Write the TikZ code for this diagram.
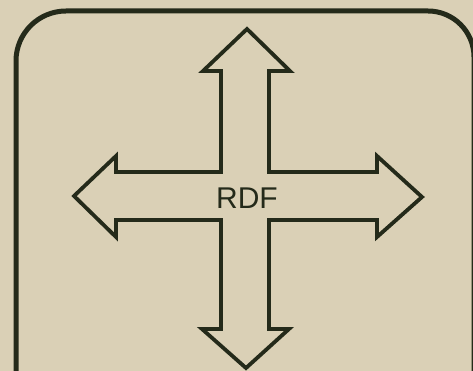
\documentclass[tikz,border=0pt]{standalone}
\usepackage{fontspec}
\newfontfamily\rdffont{Liberation Sans}
\definecolor{paper}{RGB}{218,208,182}
\definecolor{ink}{RGB}{36,42,26}
\tikzset{
  frameline/.style={draw=ink, line width=5pt},
  arrowline/.style={draw=ink, line width=3.8pt, line join=miter},
  lbl/.style={font=\rdffont\fontsize{30}{36}\selectfont, text=ink, inner sep=0pt}
}
\begin{document}
\begin{tikzpicture}[x=1pt,y=-1pt]
\useasboundingbox (0,0) rectangle (473,371);
\fill[paper] (0,0) rectangle (473,371);
\begin{scope}
\clip (0,0) rectangle (473,371);
\draw[frameline] (16,400) -- (16,61) arc[start angle=180, end angle=270, radius=50] -- (428,11) arc[start angle=-90, end angle=0, radius=46] -- (474,400);
\end{scope}
\draw[arrowline] (247,29) -- (290,71) -- (269,71) -- (269,172) -- (377,172) -- (377,156) -- (422,197) -- (377,237) -- (377,220) -- (269,220) -- (269,329) -- (289,329) -- (246,368) -- (202,329) -- (221,329) -- (221,220) -- (116,220) -- (116,237) -- (74,196) -- (116,156) -- (116,172) -- (221,172) -- (221,71) -- (203,71) -- cycle;
\node[lbl] (rdf) at (247,198.5) {RDF};
\end{tikzpicture}
\end{document}
